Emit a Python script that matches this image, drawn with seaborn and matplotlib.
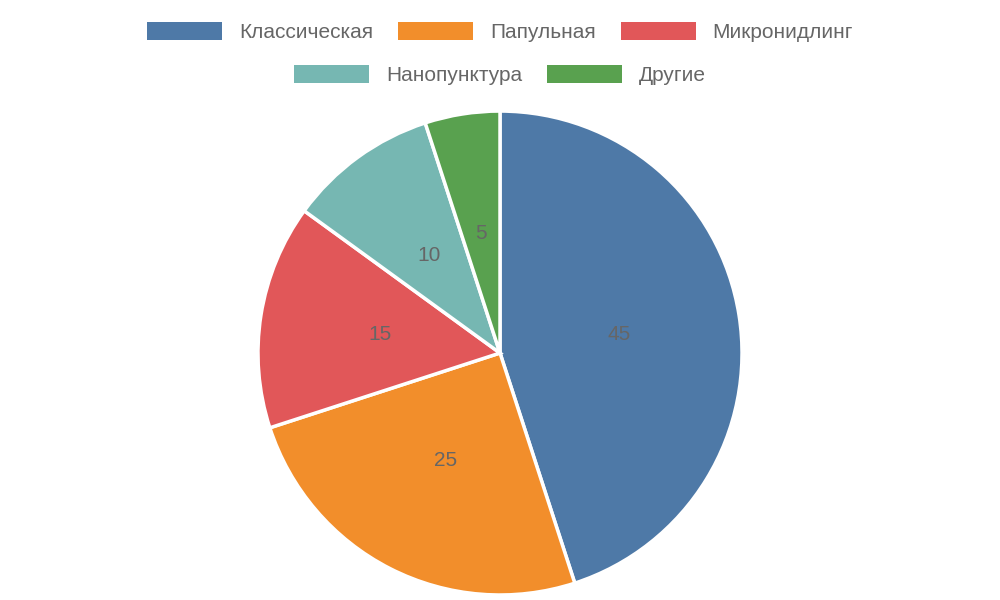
import matplotlib
matplotlib.use("Agg")
import matplotlib.pyplot as plt
import seaborn as sns
from matplotlib.patches import Patch

sns.set_theme(style="white")
plt.rcParams['font.family'] = ['Liberation Sans', 'DejaVu Sans']

categories = ["Классическая", "Папульная", "Микронидлинг", "Нанопунктура", "Другие"]
values = [45, 25, 15, 10, 5]
colors = ["#4e79a7", "#f28e2b", "#e15759", "#76b7b2", "#59a14f"]

fig = plt.figure(figsize=(10, 6), dpi=100)
ax = fig.add_axes([0, 0, 1, 1])
ax.pie(values, colors=colors, startangle=90, counterclock=False,
       labels=[str(v) for v in values], labeldistance=0.5,
       wedgeprops=dict(edgecolor="white", linewidth=2.5),
       textprops=dict(color="#666666", fontsize=15))
for t in ax.texts:
    t.set_ha("center"); t.set_va("center")
ax.set_aspect("auto")
ax.set_xlim(-2.066, 2.066)
ax.set_ylim(-1.0207, 1.459)
ax.axis("off")

handles = [Patch(facecolor=c, edgecolor="none") for c in colors]
kw = dict(frameon=False, fontsize=15, handlelength=3.6, handleheight=1.0,
          handletextpad=0.8, columnspacing=1.2, labelcolor="#666666", loc="center")
l1 = fig.legend(handles[:3], categories[:3], ncol=3, bbox_to_anchor=(0.5, 1 - 32/600), **kw)
fig.legend(handles[3:], categories[3:], ncol=2, bbox_to_anchor=(0.5, 1 - 75/600), **kw)

fig.savefig("out.png", dpi=100)
